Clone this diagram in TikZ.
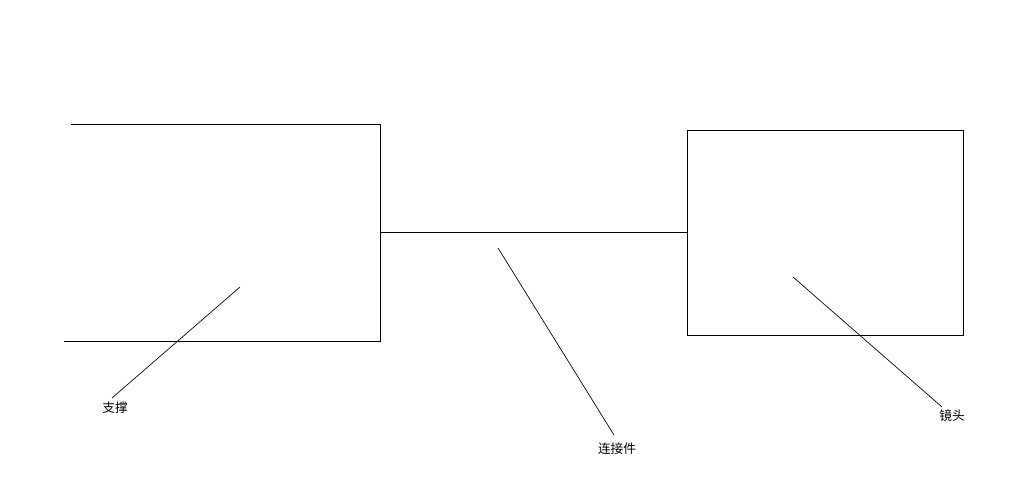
\documentclass[tikz,border=0pt]{standalone}
\usepackage{fontspec}
\newfontfamily\cjk{Noto Sans CJK SC}
\usepackage{tikz}

\begin{document}
\begin{tikzpicture}[x=0.75pt,y=0.75pt,yscale=-1,xscale=1]
\path[use as bounding box] (0,0) rectangle (1030,494);

%Support (open box)
    \draw[line width=0.75pt]   (71,124) -- (380,124) -- (380,341) -- (64,341) ;
%Lens box
    \draw[line width=0.75pt]   (687,130) rectangle (963,335) ;
%Connector
    \coordinate (supR) at (380,232);
    \coordinate (lensL) at (687,232);
    \draw[line width=0.75pt]   (supR) -- (lensL) ;

%Leader tips
    \coordinate (tipA) at (240,287);
    \coordinate (endA) at (112,398);
    \coordinate (tipB) at (498,248);
    \coordinate (endB) at (614,435);
    \coordinate (tipC) at (793,277);
    \coordinate (endC) at (942,407);
    \draw[line width=0.5pt]   (tipA) -- (endA) ;
    \draw[line width=0.5pt]   (tipB) -- (endB) ;
    \draw[line width=0.5pt]   (tipC) -- (endC) ;

% Text Node
    \draw (115,408) node (zhicheng) [inner sep=0.75pt]  [font=\cjk\fontsize{9.5}{11}\selectfont] {支撑};
% Text Node
    \draw (617,449) node (lianjiejian) [inner sep=0.75pt]  [font=\cjk\fontsize{9.5}{11}\selectfont] {连接件};
% Text Node
    \draw (952,416) node (jingtou) [inner sep=0.75pt]  [font=\cjk\fontsize{9.5}{11}\selectfont] {镜头};

\end{tikzpicture}
\end{document}
